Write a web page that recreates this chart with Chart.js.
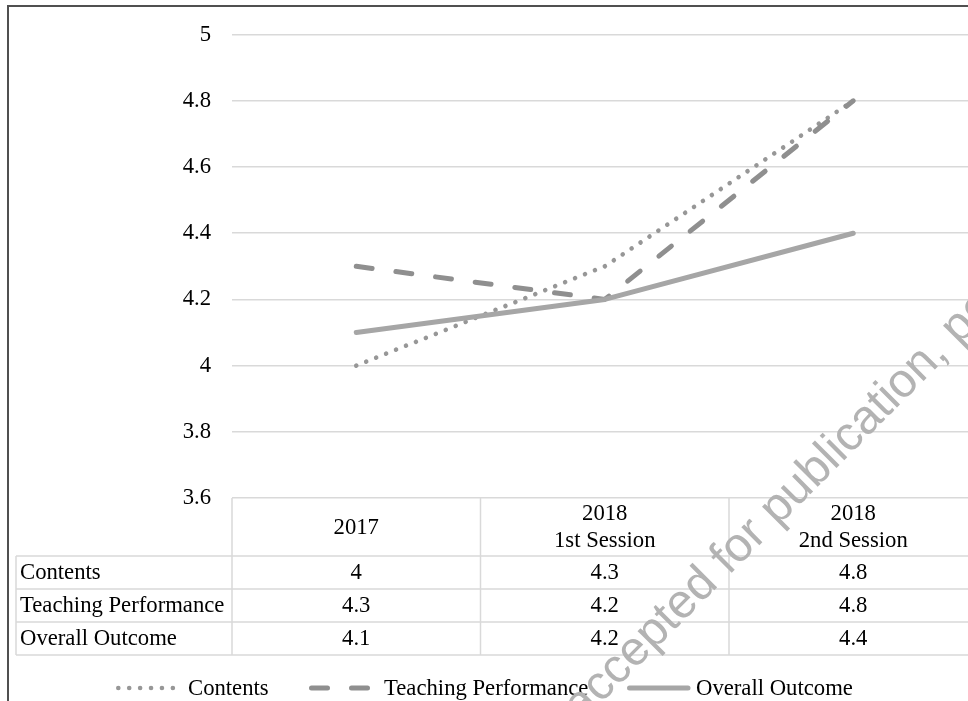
<!DOCTYPE html>
<html>
<head>
<meta charset="utf-8">
<title>Course evaluation scores</title>
<script src="https://cdn.jsdelivr.net/npm/chart.js@4/dist/chart.umd.min.js"></script>
<style>
  html, body { margin: 0; padding: 0; background: #ffffff; overflow: hidden; }
  #wrap { position: absolute; left: 0; top: 0; width: 990px; height: 701px; }
</style>
</head>
<body>
<div id="wrap"><canvas id="chart" width="990" height="701"></canvas></div>
<script>
// Evaluation periods (table header / x categories)
const categories = [['2017'], ['2018', '1st Session'], ['2018', '2nd Session']];
// Series names
const seriesNames = ['Contents', 'Teaching Performance', 'Overall Outcome'];
// Mean scores per period
const contentsScores = [4, 4.3, 4.8];
const teachingScores = [4.3, 4.2, 4.8];
const overallScores = [4.1, 4.2, 4.4];
// Value axis range
const yMin = 3.6;
const yMax = 5;
const yStep = 0.2;

const FONT = 'Liberation Serif, "Times New Roman", serif';
const FONT_SIZE = 22.7;
const GRID = '#d9d9d9';

// White page background and outer frame
const framePlugin = {
  id: 'frame',
  beforeDraw(chart) {
    const ctx = chart.ctx;
    ctx.save();
    ctx.fillStyle = '#ffffff';
    ctx.fillRect(0, 0, chart.width, chart.height);
    ctx.restore();
  },
  afterDraw(chart) {
    const ctx = chart.ctx;
    ctx.save();
    ctx.strokeStyle = '#505050';
    ctx.lineWidth = 2;
    ctx.strokeRect(8, 6, chart.width + 20, chart.height + 20);
    ctx.restore();
  }
};

// Data table under the plot, aligned with the category bands
const tablePlugin = {
  id: 'dataTable',
  afterDraw(chart) {
    const { ctx, chartArea, scales } = chart;
    const xs = scales.x;
    const n = categories.length;
    const bandW = (chartArea.right - chartArea.left) / n;
    const top = chartArea.bottom;
    const headBottom = top + 58;
    const rowH = 33;
    const tableLeft = 16;
    const rows = [contentsScores, teachingScores, overallScores];
    const bottom = headBottom + rowH * rows.length;

    ctx.save();
    ctx.strokeStyle = GRID;
    ctx.lineWidth = 1.5;
    ctx.beginPath();
    for (let r = 0; r <= rows.length; r++) {
      const y = headBottom + r * rowH;
      ctx.moveTo(tableLeft, y);
      ctx.lineTo(chart.width, y);
    }
    for (let c = 0; c <= n; c++) {
      const x = chartArea.left + c * bandW;
      ctx.moveTo(x, top);
      ctx.lineTo(x, bottom);
    }
    ctx.moveTo(tableLeft, headBottom);
    ctx.lineTo(tableLeft, bottom);
    ctx.stroke();

    ctx.fillStyle = '#000000';
    ctx.font = FONT_SIZE + 'px ' + FONT;
    ctx.textBaseline = 'middle';
    ctx.textAlign = 'center';
    const headMid = (top + headBottom) / 2 + 1;
    const lh = 27;
    categories.forEach((lines, i) => {
      const cx = xs.getPixelForValue(i);
      const y0 = headMid - (lines.length - 1) * lh / 2;
      lines.forEach((t, k) => ctx.fillText(t, cx, y0 + k * lh));
    });
    rows.forEach((vals, r) => {
      const cy = headBottom + r * rowH + rowH / 2 + 1;
      ctx.textAlign = 'left';
      ctx.fillText(seriesNames[r], 20, cy);
      ctx.textAlign = 'center';
      vals.forEach((v, i) => ctx.fillText(String(v), xs.getPixelForValue(i), cy));
    });
    ctx.restore();
  }
};

// Legend with line-style samples, built from the datasets
const legendPlugin = {
  id: 'lineLegend',
  afterDraw(chart) {
    const ctx = chart.ctx;
    const starts = [116, 309, 627];
    const textGap = [9, 12, 6];
    const sampleW = 63;
    const y = 688;
    ctx.save();
    chart.data.datasets.forEach((ds, i) => {
      const x0 = starts[i];
      ctx.strokeStyle = ds.borderColor;
      ctx.lineWidth = ds.borderWidth;
      ctx.lineCap = ds.borderCapStyle || 'butt';
      ctx.setLineDash(ds.legendDash || []);
      const inset = ctx.lineCap === 'round' ? ds.borderWidth / 2 : 0;
      ctx.beginPath();
      ctx.moveTo(x0 + inset, y);
      ctx.lineTo(x0 + sampleW - inset + 0.5, y);
      ctx.stroke();
      ctx.setLineDash([]);
      ctx.fillStyle = '#000000';
      ctx.font = FONT_SIZE + 'px ' + FONT;
      ctx.textBaseline = 'middle';
      ctx.textAlign = 'left';
      ctx.fillText(ds.label, x0 + sampleW + textGap[i], y + 1);
    });
    ctx.restore();
  }
};

// Diagonal stamp across the lower right
const stampPlugin = {
  id: 'stamp',
  afterDraw(chart) {
    const ctx = chart.ctx;
    ctx.save();
    ctx.translate(581.5, 723);
    ctx.rotate(-45 * Math.PI / 180);
    ctx.font = '48px "Liberation Sans", Arial, sans-serif';
    ctx.fillStyle = '#b3b3b3';
    ctx.textBaseline = 'alphabetic';
    ctx.textAlign = 'left';
    ctx.fillText('accepted for publication, post-print', 0, 0);
    ctx.restore();
  }
};

new Chart(document.getElementById('chart'), {
  type: 'line',
  data: {
    labels: categories,
    datasets: [
      {
        label: seriesNames[0],
        data: contentsScores,
        borderColor: '#979797',
        borderWidth: 4.6,
        borderDash: [0.01, 10.7],
        legendDash: [0.01, 10.9],
        borderCapStyle: 'round',
        borderJoinStyle: 'round',
        pointRadius: 0,
        tension: 0,
        order: 3
      },
      {
        label: seriesNames[1],
        data: teachingScores,
        borderColor: '#8f8f8f',
        borderWidth: 5,
        borderDash: [16, 24],
        legendDash: [16, 24],
        borderCapStyle: 'round',
        borderJoinStyle: 'round',
        pointRadius: 0,
        tension: 0,
        order: 2
      },
      {
        label: seriesNames[2],
        data: overallScores,
        borderColor: '#a6a6a6',
        borderWidth: 5,
        borderCapStyle: 'round',
        borderJoinStyle: 'round',
        pointRadius: 0,
        tension: 0,
        order: 1
      }
    ]
  },
  options: {
    responsive: false,
    animation: false,
    events: [],
    layout: { padding: { left: 0, top: 34, right: 12.5, bottom: 203 } },
    plugins: {
      legend: { display: false },
      tooltip: { enabled: false },
      title: { display: false }
    },
    scales: {
      x: {
        type: 'category',
        display: false,
        offset: true
      },
      y: {
        min: yMin,
        max: yMax,
        afterFit(scale) { scale.width = 232; },
        border: { display: false },
        grid: { color: GRID, lineWidth: 1.5, drawTicks: false },
        ticks: {
          stepSize: yStep,
          padding: 21,
          color: '#000000',
          font: { family: FONT, size: FONT_SIZE },
          callback: (v) => String(+Number(v).toFixed(1))
        }
      }
    }
  },
  plugins: [framePlugin, tablePlugin, legendPlugin, stampPlugin]
});
</script>
</body>
</html>
